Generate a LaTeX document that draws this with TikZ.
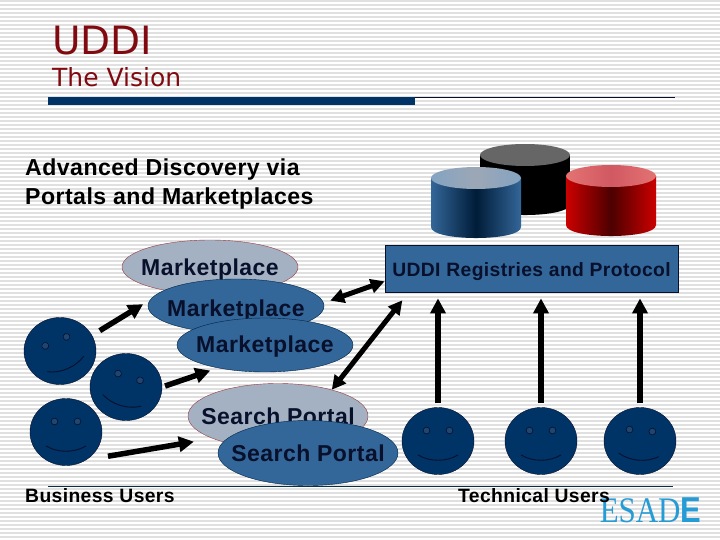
\documentclass[tikz,border=0pt]{standalone}
\usepackage{fontspec}
\setmainfont{Liberation Sans}
\newfontfamily\labelfont[LetterSpace=2]{Liberation Sans}
\newfontfamily\titlefont{DejaVu Sans}
\newfontfamily\logofont{Liberation Serif}
\usetikzlibrary{arrows.meta,positioning,calc,shapes.geometric}
\definecolor{stripegrey}{RGB}{224,224,224}
\definecolor{titlered}{RGB}{128,10,16}
\definecolor{barblue}{RGB}{0,51,102}
\definecolor{bubbleblue}{RGB}{51,102,153}
\definecolor{bubblegrey}{RGB}{163,177,195}
\definecolor{inkblue}{RGB}{8,16,44}
\definecolor{eyeblue}{RGB}{30,70,112}
\definecolor{logoblue}{RGB}{38,156,214}
\tikzset{
  bubble/.style={shape=ellipse,draw=barblue!70!black,fill=bubbleblue,minimum width=176pt,minimum height=54pt,inner sep=0pt,inner xsep=-30pt,text height=17pt,text depth=0pt,text=inkblue,font=\labelfont\bfseries\fontsize{23}{27}\selectfont},
  bubblepale/.style={bubble,draw=titlered!80,fill=bubblegrey},
  portal/.style={minimum width=180pt,minimum height=65pt},
  facenode/.style={shape=ellipse,draw=inkblue,fill=barblue,minimum width=72pt,minimum height=67pt,inner sep=0pt},
  bigarrow/.style={-{Triangle[width=15pt,length=15pt]},line width=5.5pt,black},
  bothways/.style={{Triangle[width=14pt,length=14pt]}-{Triangle[width=14pt,length=14pt]},line width=5pt,black},
  caption/.style={anchor=base west,inner sep=0pt,font=\labelfont\bfseries\fontsize{19.3}{23}\selectfont}
}
\begin{document}
\begin{tikzpicture}[x=1pt,y=-1pt]
\useasboundingbox (0,0) rectangle (720,540);
\fill[white] (0,0) rectangle (720,540);
\foreach \k in {0,...,134}{\draw[stripegrey,line width=1.6pt] (0,0.8+4*\k) -- (720,0.8+4*\k);}
% heading
\node[anchor=base west,inner sep=0pt,text=titlered,font=\titlefont\fontsize{39}{44}\selectfont] (title) at (52,55) {UDDI};
\node[anchor=base west,inner sep=0pt,text=titlered,font=\titlefont\fontsize{25}{30}\selectfont] (subtitle) at (52,87) {The Vision};
\fill[barblue] (48,97) rectangle (415,105);
\draw[inkblue,line width=.8pt] (415,97) -- (675,97);
\draw[inkblue!70!teal,line width=.8pt] (48,486.5) -- (673,486.5);
\node[anchor=north west,inner sep=0pt,align=left,font=\labelfont\bfseries\fontsize{23.1}{29}\selectfont] (intro) at (25,159) {Advanced Discovery via\\Portals and Marketplaces};
% registries
\foreach \x/\t/\edge/\centre/\tope/\topm in {480/144/black/black/black!60/black!60,431/167/bubbleblue/barblue!55!black/bubbleblue!60/bubblegrey!80!gray,566/165/red!80!black/red!30!black/red!80!black!55/bubblegrey!50!red}{
  \shade[left color=\edge,right color=\edge,middle color=\centre] (\x,\t+11) -- (\x,\t+60) .. controls (\x,\t+74.7) and (\x+90,\t+74.7) .. (\x+90,\t+60) -- (\x+90,\t+11) -- cycle;
  \shade[left color=\tope,right color=\tope,middle color=\topm] (\x+45,\t+11) ellipse[x radius=45,y radius=11];
}
\node[draw=inkblue,fill=bubbleblue,line width=.8pt,minimum width=293pt,minimum height=47pt,inner sep=0pt,text height=15pt,text depth=0pt,text=inkblue,font=\labelfont\bfseries\fontsize{19.3}{23}\selectfont] (registry) at (531.5,268.5) {UDDI Registries and Protocol};
% marketplaces and portals
\node[bubblepale] (market1) at (210,267) {Marketplace};
\node[bubble,text height=20pt] (market2) at (236,306) {Marketplace};
\node[bubble,text height=14pt] (market3) at (265,345) {Marketplace};
\node[bubblepale,portal,text height=16pt] (portal1) at (278,416) {Search Portal};
\node[bubble,portal,text height=16pt] (portal2) at (308,453) {Search Portal};
% users
\foreach \f/\x/\y/\r in {face1/60/351/23,face2/126/387/-17,face3/66/432/0,face4/438/441/0,face5/541/441/0,face6/640/441/-5}{
  \node[facenode] (\f) at (\x,\y) {};
  \begin{scope}[shift={(\f)},rotate=\r]
  \draw[inkblue,fill=eyeblue,line width=.6pt] (-11.5,-10.5) circle[radius=3.4];
  \draw[inkblue,fill=eyeblue,line width=.6pt] (11.5,-10.5) circle[radius=3.4];
  \draw[inkblue,line width=.9pt] (-20,14) .. controls (-8,21) and (8,21) .. (20,14);
  \end{scope}
}
% logo
\node[xscale=.86,inner sep=0pt,text=logoblue,font=\logofont\fontsize{36}{40}\selectfont] (logo) at (650.5,510.5) {ESAD{\rmfamily\bfseries E}};
\node[caption] (business) at (25,502) {Business Users};
\node[caption] (technical) at (458,502) {Technical Users};
% arrows
\draw[bigarrow,shorten <=9pt,shorten >=8pt] (face1.26) -- (market2.176);
\draw[bigarrow,shorten <=3pt,shorten >=8pt] (face2.0) -- (market3.206);
\draw[bigarrow,shorten <=22pt,shorten >=19pt] (face3.306) -- (portal1.199);
\draw[bothways,shorten <=7pt] (market2.2) -- (registry.185);
\draw[bothways,shorten <=10pt] (registry.191) -- (portal1.26);
\foreach \f in {face4,face5,face6}{\draw[bigarrow,shorten <=4pt,shorten >=6pt] (\f.north) -- (\f.north |- registry.south);}
\end{tikzpicture}
\end{document}
